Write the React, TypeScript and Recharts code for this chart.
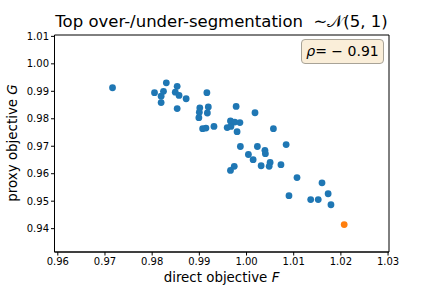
import { ScatterChart, Scatter, XAxis, YAxis, ReferenceArea } from 'recharts';

// direct objective F (x) and proxy objective G (y)
const directF = [
  0.9716, 0.983, 0.9805, 0.9824, 0.9819, 0.9819, 0.9853, 0.9849, 0.9857, 0.9872,
  0.9853, 0.9916, 0.9901, 0.99, 0.9899, 0.9919, 0.9917, 0.9907, 0.9914, 0.9931,
  0.9978, 1.0018, 0.9959, 0.9966, 0.9975, 0.9986, 0.9967, 0.998, 1.0057, 0.9987,
  1.0023, 1.0084, 1.0004, 1.0039, 1.004, 1.0014, 1.0031, 1.005, 1.0048, 1.0073,
  0.9974, 0.9966, 1.0107, 1.016, 1.009, 1.0173, 1.0136, 1.0152, 1.0179,
];
const proxyG = [
  0.9913, 0.9931, 0.9895, 0.99, 0.9882, 0.9859, 0.9918, 0.9897, 0.9885, 0.9873,
  0.9837, 0.9895, 0.984, 0.9824, 0.9804, 0.9843, 0.9821, 0.9764, 0.9766, 0.9772,
  0.9845, 0.9822, 0.9768, 0.9792, 0.9788, 0.9786, 0.9772, 0.9753, 0.9764, 0.9699,
  0.9699, 0.9706, 0.967, 0.9685, 0.9673, 0.9651, 0.9629, 0.9641, 0.9627, 0.9633,
  0.9627, 0.9612, 0.9586, 0.9567, 0.952, 0.9527, 0.9506, 0.9506, 0.9487,
];
const topF = [1.0207];
const topG = [0.9415];

const xTicks = [0.96, 0.97, 0.98, 0.99, 1.0, 1.01, 1.02, 1.03];
const yTicks = [0.94, 0.95, 0.96, 0.97, 0.98, 0.99, 1.0, 1.01];
const xDomain = [0.9593, 1.0302];
const yDomain = [0.9315, 1.0105];

const FONT = '"DejaVu Sans", sans-serif';

const dot = (color: string) => (props: any) => (
  <circle cx={props.cx} cy={props.cy} r={3.4} fill={color} />
);

export default function App() {
  const points = directF.map((x, i) => ({ x, y: proxyG[i] }));
  const top = topF.map((x, i) => ({ x, y: topG[i] }));
  const tick = { fill: '#000', fontSize: 10, fontFamily: FONT };

  return (
    <div style={{ position: 'absolute', left: 0, top: 0, width: 432, height: 288, background: '#fff', fontFamily: FONT }}>
      <ScatterChart width={432} height={288} margin={{ top: 35, right: 43, bottom: 0, left: 0 }}>
        <XAxis
          type="number"
          dataKey="x"
          domain={xDomain}
          ticks={xTicks}
          allowDataOverflow
          height={36}
          tickSize={3.5}
          tickFormatter={(v: number) => v.toFixed(2)}
          tick={tick}
          stroke="#000"
        />
        <YAxis
          type="number"
          dataKey="y"
          domain={yDomain}
          ticks={yTicks}
          allowDataOverflow
          width={54.5}
          tickSize={3.5}
          tickFormatter={(v: number) => v.toFixed(2)}
          tick={tick}
          stroke="#000"
        />
        <ReferenceArea x1={xDomain[0]} x2={xDomain[1]} y1={yDomain[0]} y2={yDomain[1]} fill="none" stroke="#000" strokeWidth={1} />
        <Scatter data={points} shape={dot('#1f77b4')} isAnimationActive={false} />
        <Scatter data={top} shape={dot('#ff7f0e')} isAnimationActive={false} />
      </ScatterChart>

      <div style={{ position: 'absolute', left: 0, width: 443, top: 12, textAlign: 'center', fontSize: 16.5, whiteSpace: 'nowrap' }}>
        Top over-/under-segmentation&nbsp;&nbsp;∼𝒩(5, 1)
      </div>

      <div style={{ position: 'absolute', left: 0, width: 443, top: 270, textAlign: 'center', fontSize: 13.4, whiteSpace: 'nowrap' }}>
        direct objective <i>F</i>
      </div>

      <div style={{ position: 'absolute', left: 12, top: 143, fontSize: 13.4, whiteSpace: 'nowrap', transform: 'translate(-50%, -50%) rotate(-90deg)' }}>
        proxy objective <i>G</i>
      </div>

      <div style={{
        position: 'absolute', left: 301, top: 39, width: 83, height: 25, boxSizing: 'border-box',
        background: '#faeed9', border: '1px solid #a8a397', borderRadius: 4,
        fontSize: 14, lineHeight: '23px', textAlign: 'center', whiteSpace: 'nowrap',
      }}>
        <i>ρ</i>= − 0.91
      </div>
    </div>
  );
}
